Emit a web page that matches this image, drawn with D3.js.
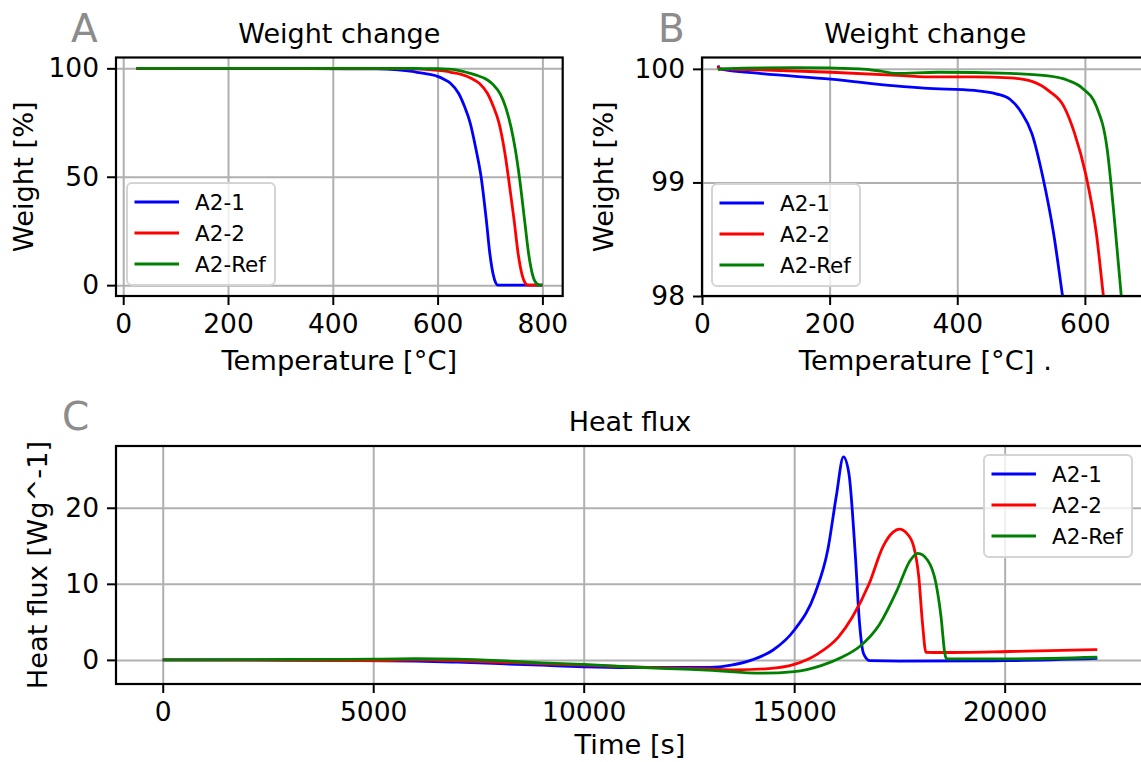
<!DOCTYPE html>
<html><head><meta charset="utf-8">
<script src="https://cdn.jsdelivr.net/npm/d3@7"></script>
<style>body{margin:0;background:#fff}svg{display:block}text{font-family:"DejaVu Sans",sans-serif}</style>
</head><body><svg id="c" width="1141" height="762"></svg>
<script>
// ---------- data ----------
const seriesNames = ["A2-1", "A2-2", "A2-Ref"];
const seriesColors = ["#0000ff", "#ff0000", "#008000"];

// Weight change (TGA): temperature [°C] and weight [%]
const tempA21 = [25, 28, 90, 202, 303, 348, 427, 461, 483, 500, 517, 534, 551, 565, 585, 600, 612, 625, 640, 652, 662, 673, 683, 693, 700, 706, 711, 715, 760, 800];
const wA21    = [100.03, 100.0, 99.96, 99.91, 99.85, 99.83, 99.81, 99.78, 99.73, 99.62, 99.43, 99.05, 98.55, 98.0, 97.2, 96.3, 95, 93, 88.5, 82, 75, 63, 50, 30, 14, 5, 1, 0, 0, 0];
const tempA22 = [25, 27, 100, 202, 315, 348, 427, 483, 517, 545, 567, 584, 601, 618, 629, 645, 665, 680, 695, 707, 717, 727, 735, 746, 754, 761, 767, 772, 800];
const wA22    = [100.02, 100.0, 99.99, 99.97, 99.94, 99.93, 99.93, 99.92, 99.89, 99.80, 99.67, 99.43, 99.08, 98.55, 98.0, 97.2, 95.3, 93, 88.5, 82, 75, 63, 50, 30, 14, 5, 1, 0, 0];
const tempRef = [25, 30, 146, 247, 280, 303, 371, 483, 539, 573, 596, 618, 635, 646, 657, 672, 696, 706, 720, 730, 740, 748, 756, 766, 774, 781, 788, 795, 800];
const wRef    = [99.99, 100.0, 100.01, 100.0, 99.98, 99.96, 99.97, 99.96, 99.94, 99.90, 99.83, 99.67, 99.29, 98.69, 98.0, 97.0, 94.5, 92.5, 88, 82, 73, 63, 50, 30, 14, 5, 1, 0, 0];

// Heat flux: time [s] and heat flux [W/g]
const timeA21 = [0, 2000, 4000, 6000, 7000, 8000, 9000, 10000, 11000, 12000, 13000, 13500, 14000, 14500, 15000, 15500, 15800, 16000, 16170, 16300, 16450, 16550, 16650, 16800, 17500, 20000, 22200];
const hfA21   = [0, 0, -0.05, -0.15, -0.3, -0.5, -0.7, -0.9, -1.0, -1.0, -1.0, -0.7, 0.0, 1.3, 3.9, 8.8, 14.5, 21.5, 26.7, 24.5, 14, 5, 0.8, -0.1, -0.15, -0.1, 0.2];
const timeA22 = [0, 3000, 5000, 6000, 8000, 10000, 11000, 12000, 13000, 13600, 14400, 15000, 15560, 16050, 16380, 16780, 17110, 17350, 17500, 17680, 17840, 17960, 18050, 18130, 18500, 20100, 22200];
const hfA22   = [0, -0.05, -0.1, 0, -0.3, -0.7, -0.9, -1.05, -1.2, -1.3, -1.15, -0.6, 0.8, 3.0, 5.6, 10.0, 14.9, 16.8, 17.2, 16.6, 14.9, 10.9, 4.7, 1.0, 0.97, 1.1, 1.35];
const timeRef = [0, 3000, 5000, 6000, 7000, 8000, 9000, 10000, 11000, 12000, 12800, 14260, 15000, 15640, 16130, 16540, 17030, 17440, 17760, 17940, 18170, 18370, 18490, 18580, 18620, 20100, 22200];
const hfRef   = [0, 0.05, 0.1, 0.15, 0.1, -0.1, -0.4, -0.6, -0.9, -1.15, -1.3, -1.75, -1.55, -0.75, 0.35, 1.7, 4.7, 9.1, 13.1, 14.0, 13.1, 10.0, 5.6, 0.8, 0.13, 0.13, 0.35];

// tick values
const ticksTempA = [0, 200, 400, 600, 800];
const ticksWeightA = [0, 50, 100];
const ticksTempB = [0, 200, 400, 600];
const ticksWeightB = [98, 99, 100];
const ticksTime = [0, 5000, 10000, 15000, 20000];
const ticksHeat = [0, 10, 20];

// ---------- drawing ----------
const svg = d3.select("#c");
const TICK_FS = 26.5, LABEL_FS = 27.3, TITLE_FS = 27, LEG_FS = 21.5;

function drawPanel(p) {
  const x = d3.scaleLinear().domain(p.xDomain).range([p.left, p.right]);
  const y = d3.scaleLinear().domain(p.yDomain).range([p.bottom, p.top]);
  const g = svg.append("g");
  const clipId = "clip" + p.id;
  svg.append("clipPath").attr("id", clipId).append("rect")
    .attr("x", p.left).attr("y", p.top).attr("width", p.right - p.left).attr("height", p.bottom - p.top);

  // grid
  g.append("g").attr("transform", `translate(0,${p.bottom})`)
    .call(d3.axisBottom(x).tickValues(p.xTicks).tickSize(-(p.bottom - p.top)).tickFormat(""))
    .call(s => { s.select(".domain").remove(); s.selectAll("line").attr("stroke", "#b0b0b0").attr("stroke-width", 2); });
  g.append("g").attr("transform", `translate(${p.left},0)`)
    .call(d3.axisLeft(y).tickValues(p.yTicks).tickSize(-(p.right - p.left)).tickFormat(""))
    .call(s => { s.select(".domain").remove(); s.selectAll("line").attr("stroke", "#b0b0b0").attr("stroke-width", 2); });

  // series
  const lg = g.append("g").attr("clip-path", `url(#${clipId})`);
  const line = d3.line().x(d => x(d[0])).y(d => y(d[1])).curve(d3.curveMonotoneX);
  p.series.forEach((s, i) => {
    lg.append("path").datum(d3.zip(s.x, s.y))
      .attr("fill", "none").attr("stroke", seriesColors[i]).attr("stroke-width", 2.8)
      .attr("stroke-linejoin", "round").attr("d", line);
  });

  // spines
  g.append("rect").attr("x", p.left).attr("y", p.top).attr("width", p.right - p.left).attr("height", p.bottom - p.top)
    .attr("fill", "none").attr("stroke", "#000").attr("stroke-width", 2.2);

  // axes
  g.append("g").attr("transform", `translate(0,${p.bottom})`)
    .call(d3.axisBottom(x).tickValues(p.xTicks).tickSize(9).tickPadding(9).tickFormat(d3.format("d")))
    .call(s => { s.select(".domain").remove(); s.selectAll("line").attr("stroke-width", 2);
      s.selectAll("text").attr("font-size", TICK_FS).attr("font-family", "DejaVu Sans").attr("fill", "#000"); });
  g.append("g").attr("transform", `translate(${p.left},0)`)
    .call(d3.axisLeft(y).tickValues(p.yTicks).tickSize(9).tickPadding(8).tickFormat(d3.format("d")))
    .call(s => { s.select(".domain").remove(); s.selectAll("line").attr("stroke-width", 2);
      s.selectAll("text").attr("font-size", TICK_FS).attr("font-family", "DejaVu Sans").attr("fill", "#000"); });

  // title
  g.append("text").attr("x", (p.left + p.right) / 2).attr("y", p.top - 15).attr("text-anchor", "middle")
    .attr("font-size", TITLE_FS).text(p.title);
  // x label
  g.append("text").attr("x", (p.left + p.right) / 2).attr("y", p.xLabelY).attr("text-anchor", "middle")
    .attr("font-size", LABEL_FS).text(p.xLabel);
  // y label
  g.append("text").attr("transform", `translate(${p.yLabelX},${(p.top + p.bottom) / 2}) rotate(-90)`)
    .attr("text-anchor", "middle").attr("font-size", LABEL_FS).text(p.yLabel);
  // panel letter
  g.append("text").attr("x", p.letterX).attr("y", p.letterY).attr("font-size", 39).attr("fill", "#8c8c8c").text(p.letter);

  // legend
  const L = p.legend;
  const leg = g.append("g").attr("transform", `translate(${L.x},${L.y})`);
  leg.append("rect").attr("x", 0).attr("y", 0).attr("width", 148).attr("height", 102).attr("rx", 5)
    .attr("fill", "#fff").attr("fill-opacity", 0.8).attr("stroke", "#d4d4d4").attr("stroke-width", 2);
  seriesNames.forEach((n, i) => {
    const ry = 19 + i * 31;
    leg.append("line").attr("x1", 7.5).attr("x2", 52).attr("y1", ry).attr("y2", ry)
      .attr("stroke", seriesColors[i]).attr("stroke-width", 2.8);
    leg.append("text").attr("x", 68).attr("y", ry).attr("dy", "0.36em").attr("font-size", LEG_FS).text(n);
  });
}

drawPanel({
  id: "A", letter: "A", letterX: 71, letterY: 42,
  left: 116, right: 562.7, top: 57.5, bottom: 296,
  xDomain: [-13.75, 838.75], yDomain: [-5, 105], xTicks: ticksTempA, yTicks: ticksWeightA,
  title: "Weight change", xLabel: "Temperature [°C]", yLabel: "Weight [%]", xLabelY: 370, yLabelX: 33,
  series: [{x: tempA21, y: wA21}, {x: tempA22, y: wA22}, {x: tempRef, y: wRef}],
  legend: {x: 127, y: 183}
});
drawPanel({
  id: "B", letter: "B", letterX: 658, letterY: 42,
  left: 702, right: 1148.7, top: 57.5, bottom: 296,
  xDomain: [0, 700], yDomain: [98, 100.1], xTicks: ticksTempB, yTicks: ticksWeightB,
  title: "Weight change", xLabel: "Temperature [°C] .", yLabel: "Weight [%]", xLabelY: 370, yLabelX: 613,
  series: [{x: tempA21, y: wA21}, {x: tempA22, y: wA22}, {x: tempRef, y: wRef}],
  legend: {x: 712, y: 184}
});
drawPanel({
  id: "C", letter: "C", letterX: 62, letterY: 430,
  left: 116, right: 1144, top: 446, bottom: 684,
  xDomain: [-1110, 23310], yDomain: [-3.17, 28.12], xTicks: ticksTime, yTicks: ticksHeat,
  title: "Heat flux", xLabel: "Time [s]", yLabel: "Heat flux [Wg^-1]", xLabelY: 754, yLabelX: 47,
  series: [{x: timeA21, y: hfA21}, {x: timeA22, y: hfA22}, {x: timeRef, y: hfRef}],
  legend: {x: 984, y: 455}
});
</script></body></html>
